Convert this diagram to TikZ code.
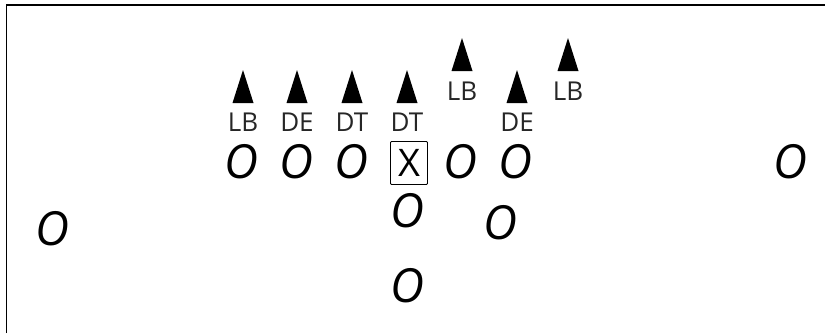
\documentclass[tikz,border=0pt]{standalone}
\usepackage{fontspec}
\setmainfont{Open Sans}
\usetikzlibrary{positioning}
\tikzset{
  frameline/.style={line width=1.6pt, draw=black},
  defender/.style={fill=black},
  poslabel/.style={font=\fontsize{26}{26}\selectfont, inner sep=0pt, text=black!85},
  offplayer/.style={font=\fontsize{47}{47}\selectfont\itshape, inner sep=0pt},
  centerbox/.style={draw, line width=0.9pt, rounded corners=1pt, minimum width=37pt,
    minimum height=43pt, inner sep=0pt, font=\fontsize{38}{38}\selectfont}
}

\begin{document}
\begin{tikzpicture}[x=1pt,y=1pt]
  \useasboundingbox (0,0) rectangle (825,333);
  \draw[frameline] (6.5,0) -- (6.5,328) -- (825,328);
  % defenders: x / base y / label y / label
  \foreach \x/\y/\ly/\t [count=\i] in {243/230/211/LB, 297/230/211/DE, 352/230/211/DT,
      407/230/211/DT, 462/262/242/LB, 517/230/211/DE, 568/262/242/LB} {
    \fill[defender] (\x-10.5,\y) -- (\x+10.5,\y) -- (\x,\y+33) -- cycle;
    \node[poslabel] (def\i) at (\x,\ly) {\t};
  }
  % offense
  \node[centerbox] (ctr) at (409,170) {X};
  \foreach \x/\y [count=\i] in {241/171, 296/171, 351/171, 460/171, 515/171,
      790/171, 52/104, 407/122, 500/110, 407/47} {
    \node[offplayer] (off\i) at (\x,\y) {O};
  }
\end{tikzpicture}
\end{document}
